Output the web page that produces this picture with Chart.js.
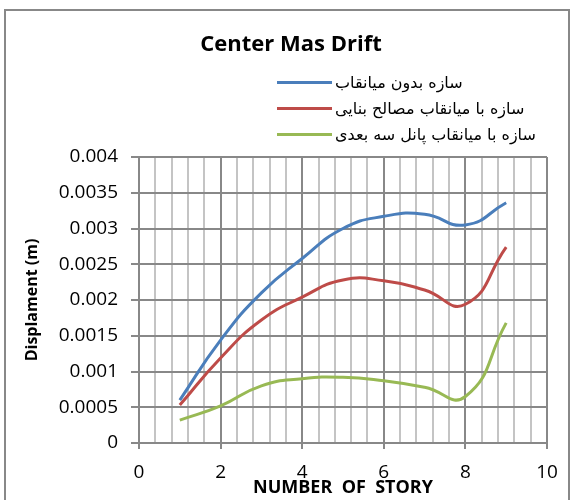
<!DOCTYPE html>
<html>
<head>
<meta charset="utf-8">
<script src="https://cdn.jsdelivr.net/npm/chart.js@4"></script>
<style>
  body { margin: 0; background: #fff; }
  #wrap { position: relative; width: 571px; height: 500px; }
  #frame { position: absolute; left: 4px; top: 9px; width: 562px; height: 490px; border: 2px solid #888; border-bottom: none; pointer-events: none; }
  #legend { position: absolute; left: 277px; top: 69px; font-family: "DejaVu Sans", sans-serif; font-size: 16px; color: #000; }
  .row { display: flex; align-items: center; height: 26px; }
  .swatch { width: 55px; height: 3px; margin-right: 3px; }
</style>
</head>
<body>
<div id="wrap">
  <canvas id="driftChart" width="571" height="500"></canvas>
  <div id="legend"></div>
  <div id="frame"></div>
</div>
<script>
// stories and drift values
const stories = [1, 2, 3, 4, 5, 6, 7, 8, 9];
const noInfill = [0.0006, 0.00144, 0.0021, 0.00258, 0.003, 0.00317, 0.0032, 0.00305, 0.00336];
const masonryInfill = [0.00053, 0.00119, 0.00172, 0.00204, 0.00228, 0.00227, 0.00214, 0.00194, 0.00274];
const panelInfill = [0.00032, 0.00052, 0.0008, 0.0009, 0.00092, 0.00087, 0.00078, 0.00065, 0.00168];

const seriesNames = ["سازه بدون میانقاب", "سازه با میانقاب مصالح بنایی", "سازه با میانقاب پانل سه بعدی"];
const seriesColors = ["#4a7ebb", "#be4b48", "#98b954"];

const isMajor = v => Math.abs(v / 2 - Math.round(v / 2)) < 1e-6;

function makeDataset(i, values) {
    return {
        label: seriesNames[i],
        data: stories.map((s, k) => ({ x: s, y: values[k] })),
        borderColor: seriesColors[i],
        borderWidth: 3,
        pointRadius: 0,
        tension: 0.5,
        fill: false
    };
}

const driftChart = new Chart("driftChart", {
    type: "line",
    data: {
        datasets: [
            makeDataset(0, noInfill),
            makeDataset(1, masonryInfill),
            makeDataset(2, panelInfill)
        ]
    },
    options: {
        responsive: false,
        animation: false,
        // left padding shifts the title centre to match the picture
        layout: { padding: { left: 35, right: 24, top: 0, bottom: 0 } },
        plugins: {
            legend: { display: false },
            tooltip: { enabled: false },
            title: {
                display: true,
                text: "Center Mas Drift",
                color: "#000",
                font: { family: "Open Sans", size: 22, weight: "bold" },
                padding: { top: 32, bottom: 98.6 }
            }
        },
        scales: {
            x: {
                type: "linear",
                min: 0,
                max: 10,
                afterFit: s => { s.height = 57; },
                ticks: {
                    stepSize: 0.4,
                    autoSkip: false,
                    maxRotation: 0,
                    padding: 12,
                    color: "#000",
                    font: { family: "Open Sans", size: 19 },
                    callback: v => isMajor(v) ? String(Math.round(v)) : ""
                },
                grid: {
                    color: c => isMajor(c.tick.value) ? "#888" : "#c4c4c4",
                    tickColor: c => isMajor(c.tick.value) ? "#888" : "rgba(0,0,0,0)",
                    lineWidth: 2,
                    tickLength: 6
                },
                border: { color: "#888", width: 2 },
                title: {
                    display: true,
                    text: "NUMBER  OF  STORY",
                    color: "#000",
                    font: { family: "Open Sans", size: 18, weight: "bold" },
                    padding: { top: 0, bottom: 1 }
                }
            },
            y: {
                min: 0,
                max: 0.004,
                afterFit: s => { s.width = 104; },
                ticks: {
                    stepSize: 0.0005,
                    padding: 13,
                    color: "#000",
                    font: { family: "Open Sans", size: 19 },
                    callback: v => String(parseFloat(v.toFixed(4)))
                },
                grid: { color: "#888", lineWidth: 2, tickLength: 8 },
                border: { color: "#888", width: 2 },
                title: {
                    display: true,
                    text: "Displament (m)",
                    color: "#000",
                    font: { family: "Open Sans", size: 16, weight: "bold" },
                    padding: { top: -12, bottom: 0 }
                }
            }
        }
    }
});

// legend rows: coloured line on the left, Persian label after it
const legendBox = document.getElementById("legend");
seriesNames.forEach((name, i) => {
    const row = document.createElement("div");
    row.className = "row";
    row.innerHTML = '<span class="swatch" style="background:' + seriesColors[i] + '"></span><span dir="rtl">' + name + '</span>';
    legendBox.appendChild(row);
});
</script>
</body>
</html>
